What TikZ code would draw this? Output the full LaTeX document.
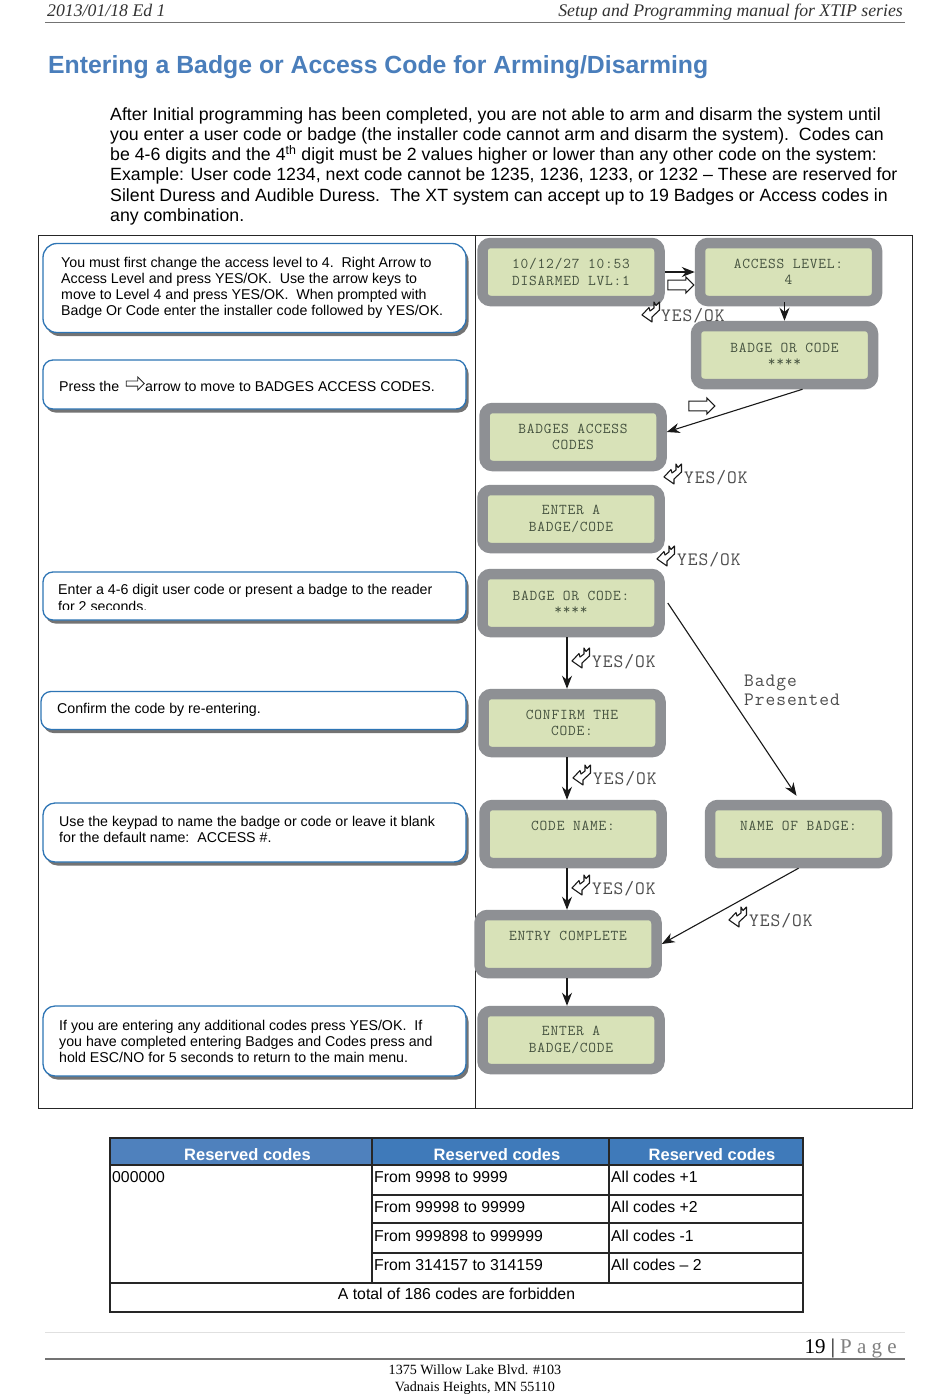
\documentclass[tikz,border=0pt]{standalone}
\usepackage{fontspec}
\setmainfont{Liberation Sans}
\newfontfamily\lcdfont{Latin Modern Mono}[LetterSpace=5.3]
\newfontfamily\pagefont{Liberation Serif}
\usepackage{tikz}
\usetikzlibrary{arrows.meta,shapes.arrows,shadows}

\definecolor{lcdgray}{HTML}{8E9094}
\definecolor{lcdgreen}{HTML}{D8E2B8}
\definecolor{lcdtext}{HTML}{45523F}
\definecolor{noteblue}{HTML}{2E75B5}
\definecolor{titleblue}{HTML}{4A7EBB}
\definecolor{headblue}{HTML}{3F7ABA}
\definecolor{headblueb}{HTML}{4F81BD}

\tikzset{
 lcd/.style={draw=lcdgray,fill=lcdgreen,line width=10.5pt,rounded corners=8pt,minimum width=177pt,minimum height=58pt,inner sep=0pt,align=center,text=lcdtext,font=\lcdfont\fontsize{15}{16.5}\selectfont,execute at begin node={\rule{0pt}{17pt}}},
 note/.style={draw=noteblue,fill=white,line width=1.3pt,rounded corners=10pt,minimum width=423pt,drop shadow={shadow xshift=2.5pt,shadow yshift=-3.5pt,fill=black!55,opacity=1}},
 notetext/.style={anchor=north west,inner sep=0pt,align=left,font=\fontsize{14.2}{16.1}\selectfont},
 flow/.style={-{Stealth[length=13pt,width=10pt]},line width=1.1pt,black!90},
 hollow/.style={single arrow,draw=black!90,fill=white,line width=1.1pt,inner sep=4pt,minimum height=26pt,minimum width=16pt,single arrow head extend=3pt,single arrow head indent=0pt},
 keyword/.style={anchor=west,inner sep=0pt,text=black!70,font=\lcdfont\fontsize{18.9}{19}\selectfont},
 cell/.style={anchor=west,inner sep=0pt,font=\fontsize{15.8}{18}\selectfont},
 headcell/.style={inner sep=0pt,text=white,font=\bfseries\fontsize{16.5}{18}\selectfont},
 enterkey/.pic={
  \draw[black!90,fill=white,line width=1.1pt,line join=round] (-9,3)--(-2,-4.5)--(-1,-1)--(3,-4)--(3,-10)--(5,-6.5)--(8.5,-10)--(8.5,-2)--(1,5)--(1,10)--cycle;
 }
}

\begin{document}
\begin{tikzpicture}[x=1pt,y=-1pt]

\useasboundingbox[fill=white] (0,0) rectangle (950,1394);

\node[anchor=west,inner sep=0pt,font=\pagefont\itshape\fontsize{17.75}{20}\selectfont,text=black!80] (headleft) at (47,10) {2013/01/18 Ed 1};
\node[anchor=east,inner sep=0pt,font=\pagefont\itshape\fontsize{17.75}{20}\selectfont,text=black!80] (headright) at (903,12) {Setup and Programming manual for XTIP series};
\draw[black!55,line width=1pt] (45,23)--(905,23);

\node[anchor=west,inner sep=0pt,text=titleblue,font=\bfseries\fontsize{24.8}{30}\selectfont] (title) at (48,67.5) {Entering a Badge or Access Code for Arming/Disarming};

\node[anchor=north west,inner sep=0pt,align=left,font=\fontsize{17.73}{20.3}\selectfont] (intro) at (110,107) {After Initial programming has been completed, you are not able to arm and disarm the system until\\
you enter a user code or badge (the installer code cannot arm and disarm the system).\ \ Codes can\\
be 4-6 digits and the 4\textsuperscript{th} digit must be 2 values higher or lower than any other code on the system:\\
Example: User code 1234, next code cannot be 1235, 1236, 1233, or 1232 -- These are reserved for\\
Silent Duress and Audible Duress.\ \ The XT system can accept up to 19 Badges or Access codes in\\
any combination.};

\draw[black!85,line width=.9pt] (38,235) rectangle (912,1108);
\draw[black!85,line width=.9pt] (475,235)--(475,1108);

% notes on the left
\node[note,minimum height=89pt,rounded corners=14pt] (note1) at (254.5,288) {};
\node[notetext] (note1txt) at (61,257) {You must first change the access level to 4.\ \ Right Arrow to\\
Access Level and press YES/OK.\ \ Use the arrow keys to\\
move to Level 4 and press YES/OK.\ \ When prompted with\\
Badge Or Code enter the installer code followed by YES/OK.};

\node[note,minimum height=49pt] (note2) at (254.5,384.5) {};
\node[notetext] (note2a) at (59,381) {Press the};
\node[single arrow,draw=black!85,fill=white,line width=.8pt,inner sep=1.6pt,minimum height=18pt,minimum width=13pt,single arrow head extend=3pt,single arrow head indent=0pt] (note2arrow) at (134,383.5) {};
\node[notetext] (note2b) at (145,381) {arrow to move to BADGES ACCESS CODES.};

\node[note,minimum height=48pt] (note3) at (254.5,596) {};
\begin{scope}
\clip (45,575) rectangle (464,609);
\node[notetext] (note3txt) at (58,584.5) {Enter a 4-6 digit user code or present a badge to the reader\\
for 2 seconds.};
\end{scope}

\node[note,minimum width=425pt,minimum height=38pt] (note4) at (253.5,710.5) {};
\node[notetext] (note4txt) at (57,703) {Confirm the code by re-entering.};

\node[note,minimum height=59pt,rounded corners=12pt] (note5) at (254.5,832.5) {};
\node[notetext] (note5txt) at (59,816) {Use the keypad to name the badge or code or leave it blank\\
for the default name:\ \ ACCESS \#.};

\node[note,minimum height=70pt,rounded corners=12pt] (note6) at (254.5,1041) {};
\node[notetext] (note6txt) at (59,1020) {If you are entering any additional codes press YES/OK.\ \ If\\
you have completed entering Badges and Codes press and\\
hold ESC/NO for 5 seconds to return to the main menu.};

% screens on the right
\node[lcd] (idle) at (571,272) {10/12/27 10:53\\DISARMED LVL:1};
\node[lcd] (access) at (788.5,272) {ACCESS LEVEL:\\4};
\node[lcd] (installer) at (784.5,355) {BADGE OR CODE\\[-2pt]****};
\node[lcd] (badges) at (573,437) {BADGES ACCESS\\CODES};
\node[lcd] (enter) at (571,519) {ENTER A\\BADGE/CODE};
\node[lcd] (usercode) at (571,603) {BADGE OR CODE:\\[-2pt]****};
\node[lcd] (confirm) at (572,723) {CONFIRM THE\\CODE:};
\node[lcd] (codename) at (573,834) {CODE NAME:\\~};
\node[lcd] (badgename) at (798.5,834) {NAME OF BADGE:\\~};
\node[lcd] (complete) at (568,944) {ENTRY COMPLETE\\~};
\node[lcd] (enteragain) at (571,1040) {ENTER A\\BADGE/CODE};

\draw[flow] (idle.east)--(access.west);
\draw[flow,shorten <=-4pt] (access.south -| installer.north)--(installer.north);
\draw[flow] ([xshift=18pt]installer.south)--([yshift=5pt]badges.east);
\draw[flow] ([xshift=-4pt]usercode.south)--([xshift=-5pt]confirm.north);
\draw[flow] ([xshift=-5pt]confirm.south)--([xshift=-6pt]codename.north);
\draw[flow] ([xshift=-6pt]codename.south)--([xshift=-1pt]complete.north);
\draw[flow] ([xshift=-1pt]complete.south)--([xshift=-4pt]enteragain.north);
\draw[flow] ([xshift=3pt]usercode.east)--([xshift=-2pt,yshift=4pt]badgename.north);
\draw[flow] (badgename.south)--(complete.east);

\node[hollow] (rightone) at (678.5,285) {};
\node[hollow] (righttwo) at (699.5,406) {};

\pic (keya) at (651,312) {enterkey};
\pic (keyb) at (673,474) {enterkey};
\pic (keyc) at (666,556) {enterkey};
\pic (keyd) at (581,658) {enterkey};
\pic (keye) at (582,775) {enterkey};
\pic (keyf) at (581,885) {enterkey};
\pic (keyg) at (738,917) {enterkey};

\node[keyword] (yesa) at (661,316) {YES/OK};
\node[keyword] (yesb) at (684,478) {YES/OK};
\node[keyword] (yesc) at (677,560) {YES/OK};
\node[keyword] (yesd) at (592,662) {YES/OK};
\node[keyword] (yese) at (593,779) {YES/OK};
\node[keyword] (yesf) at (592,889) {YES/OK};
\node[keyword] (yesg) at (749,921) {YES/OK};
\node[keyword,align=left] (presented) at (744,690) {Badge\\Presented};

% table of reserved codes
\fill[headblueb] (110,1138) rectangle (372,1165);
\fill[headblue] (372,1138) rectangle (803,1165);
\draw[black!85,line width=1.2pt] (110,1138) rectangle (803,1312);
\draw[black!85,line width=1.2pt] (110,1165)--(803,1165);
\draw[black!85,line width=1.2pt] (372,1138)--(372,1283);
\draw[black!85,line width=1.2pt] (609,1138)--(609,1283);
\draw[black!85,line width=1.2pt] (372,1195)--(803,1195);
\draw[black!85,line width=1.2pt] (372,1223)--(803,1223);
\draw[black!85,line width=1.2pt] (372,1253)--(803,1253);
\draw[black!85,line width=1.2pt] (110,1283)--(803,1283);

\node[headcell] (heada) at (247.5,1155) {Reserved codes};
\node[headcell] (headb) at (497,1155) {Reserved codes};
\node[headcell] (headc) at (712,1155) {Reserved codes};

\node[cell] (zero) at (112,1177) {000000};
\node[cell] (froma) at (374,1177) {From 9998 to 9999};
\node[cell] (fromb) at (374,1207) {From 99998 to 99999};
\node[cell] (fromc) at (374,1236) {From 999898 to 999999};
\node[cell] (fromd) at (374,1265) {From 314157 to 314159};
\node[cell] (alla) at (611,1177) {All codes +1};
\node[cell] (allb) at (611,1207) {All codes +2};
\node[cell] (allc) at (611,1236) {All codes -1};
\node[cell] (alld) at (611,1265) {All codes -- 2};
\node[cell,anchor=center] (total) at (456.5,1294) {A total of 186 codes are forbidden};

% page foot
\draw[black!12,line width=.8pt] (45,1332)--(905,1332);
\draw[black!55,line width=1.2pt] (45,1359)--(905,1359);
\node[anchor=east,inner sep=0pt,font=\pagefont\fontsize{21}{24}\selectfont] (pageno) at (897,1348.5) {19 | {\color{black!50}P a g e}};
\node[inner sep=0pt,align=center,font=\pagefont\fontsize{14.1}{17}\selectfont] (address) at (475,1380) {1375 Willow Lake Blvd. \#103\\Vadnais Heights, MN 55110};

\end{tikzpicture}
\end{document}
